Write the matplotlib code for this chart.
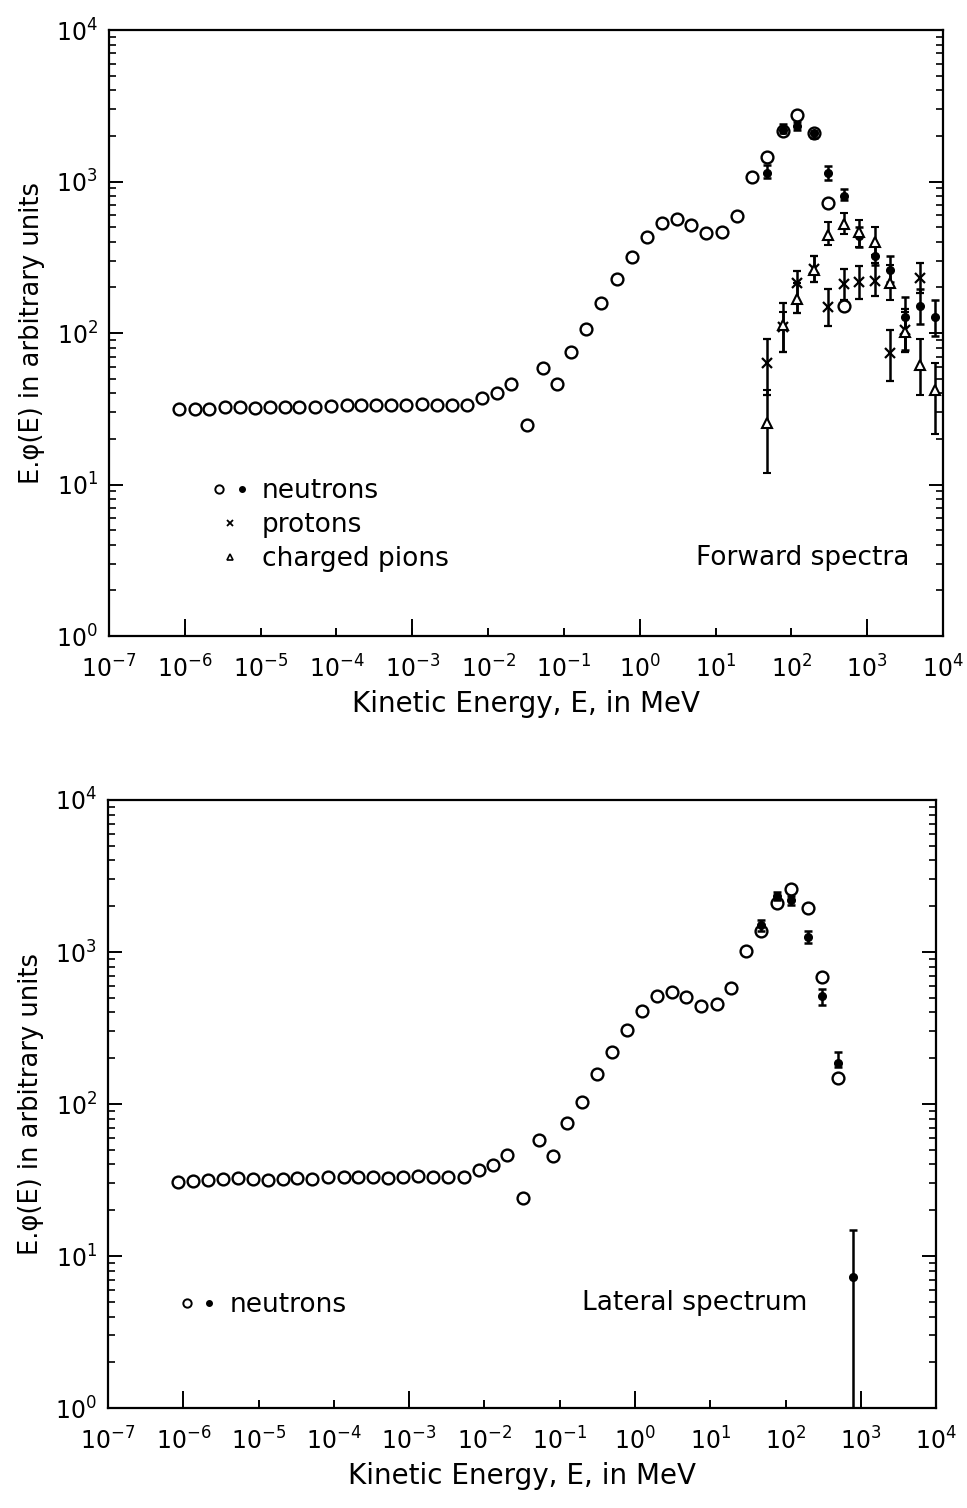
import numpy as np
import matplotlib
matplotlib.use("Agg")
import matplotlib.pyplot as plt
from matplotlib.ticker import FixedLocator, NullFormatter, LogLocator
from matplotlib.legend_handler import HandlerTuple
from matplotlib.lines import Line2D

plt.rcParams["font.family"] = ["DejaVu Sans"]
plt.rcParams["mathtext.fontset"] = "dejavusans"

# energy bins in MeV (~0.2 decade apart)
energy = [8.4e-7, 1.35e-6, 2.1e-6, 3.36e-6, 5.35e-6, 8.43e-6, 1.34e-5, 2.1e-5,
          3.24e-5, 5.18e-5, 8.41e-5, 1.37e-4, 2.11e-4, 3.33e-4, 5.3e-4, 8.36e-4,
          1.33e-3, 2.1e-3, 3.32e-3, 5.28e-3, 8.41e-3, 1.30e-2, 2.01e-2, 3.27e-2,
          5.37e-2, 8.2e-2, 0.124, 0.196, 0.31, 0.499, 0.787, 1.24, 1.96, 3.14,
          4.72, 7.45, 12.3, 19.1, 30.1, 47.5, 76.4, 120, 196, 308, 498]
energy_hi = [47.5, 76.4, 120, 196, 308, 498, 789, 1250, 1980, 3140, 4980, 7890]

# --- forward spectra ---
fwd_n_open = [31.4, 31.7, 31.7, 32.5, 32.3, 32.0, 32.5, 32.3, 32.3, 32.3,
              32.8, 33.3, 33.3, 33.3, 33.3, 33.6, 34.0, 33.5, 33.3, 33.6,
              37.1, 40.4, 46.0, 24.7, 59.0, 46.0, 75.3, 106, 157, 226,
              316, 428, 530, 565, 514, 459, 462, 595, 1066, 1459,
              2153, 2748, 2081, 724, 151]
fwd_n_fill = [1143, 2188, 2325, 2081, 1143, 806, 437, 324, 260, 128, 151, 128]
fwd_n_lo = [1055, 2100, 2200, 1950, 1020, 750, 372, 280, 217, 77, 114, 95]
fwd_n_hi = [1285, 2390, 2480, 2150, 1260, 890, 500, 380, 322, 174, 194, 166]

fwd_p = [63.7, 109, 213, 264, 149, 210, 216, 220, 73.5, 105, 230]
fwd_p_lo = [39, 75, 135, 217, 112, 165, 167, 176, 48, 75, 183]
fwd_p_hi = [90.7, 158, 257, 322, 195, 265, 275, 288, 104, 144, 288]

fwd_pi = [25.4, 113, 169, 260, 443, 524, 466, 400, 213, 102, 61.5, 42]
fwd_pi_lo = [11.9, 75, 135, 217, 380, 450, 372, 325, 165, 75, 39, 21.7]
fwd_pi_hi = [42, 138, 213, 322, 543, 618, 555, 500, 280, 138, 90.7, 63.5]

# --- lateral spectrum ---
lat_n_open = [30.5, 31.3, 31.6, 32.0, 32.5, 32.1, 31.8, 32.3, 32.6, 32.3,
              32.9, 33.1, 33.1, 33.1, 32.8, 33.1, 33.7, 33.1, 33.1, 33.1,
              36.8, 39.5, 46.0, 24.0, 58.0, 45.5, 75, 103, 157, 221,
              307, 411, 516, 543, 504, 443, 453, 577, 1016, 1380,
              2090, 2596, 1946, 682, 148]
lat_n_fill = [1505, 2335, 2197, 1250, 516, 185, 7.3]
lat_n_lo = [1380, 2200, 2050, 1140, 450, 176, 0.9]
lat_n_hi = [1625, 2500, 2350, 1370, 575, 220, 14.8]

decades = [10.0 ** k for k in range(-7, 5)]
long_x = [1e-6, 1e-3, 1e0, 1e3]
TICK_FS = 17
TEXT_FS = 19


def style_axes(ax):
    ax.set_xscale("log")
    ax.set_yscale("log")
    ax.set_xlim(1e-7, 1e4)
    ax.set_ylim(1, 1e4)
    for s in ax.spines.values():
        s.set_linewidth(1.6)
    ax.xaxis.set_major_locator(FixedLocator(decades))
    ax.xaxis.set_minor_locator(FixedLocator(long_x))
    ax.xaxis.set_minor_formatter(NullFormatter())
    ax.xaxis.remove_overlapping_locs = False
    ax.yaxis.set_major_locator(LogLocator(base=10, numticks=10))
    ax.yaxis.set_minor_locator(LogLocator(base=10, subs=np.arange(2, 10), numticks=10))
    ax.yaxis.set_minor_formatter(NullFormatter())
    ax.tick_params(axis="x", which="major", direction="in", length=6, width=1.4,
                   labelsize=TICK_FS, pad=14, top=False)
    ax.tick_params(axis="x", which="minor", direction="in", length=12, width=1.4,
                   top=False)
    ax.tick_params(axis="y", which="major", direction="in", length=10, width=1.4,
                   labelsize=TICK_FS, pad=8, right=True)
    ax.tick_params(axis="y", which="minor", direction="in", length=5, width=1.2,
                   right=True)
    ax.set_xlabel("Kinetic Energy, E, in MeV", fontsize=TEXT_FS + 1, labelpad=5)
    ax.set_ylabel("E.φ(E) in arbitrary units", fontsize=TEXT_FS - 0.5, labelpad=8)


open_kw = dict(linestyle="none", marker="o", markersize=8.5, markerfacecolor="white",
               markeredgecolor="black", markeredgewidth=1.7, zorder=3)
err_kw = dict(linestyle="none", ecolor="black", elinewidth=1.8, capsize=3,
              capthick=1.8, zorder=4)

fig = plt.figure(figsize=(9.67, 15.08), dpi=100)
ax1 = fig.add_axes([0.1127, 0.5782, 0.8625, 0.4019])
ax2 = fig.add_axes([0.1117, 0.0663, 0.8563, 0.4032])

# top panel: forward spectra
ax1.plot(energy, fwd_n_open, **open_kw)
fn = np.array(fwd_n_fill)
ax1.errorbar(energy_hi, fn, yerr=[fn - np.array(fwd_n_lo), np.array(fwd_n_hi) - fn],
             marker="o", markersize=5.5, color="black", **err_kw)
fp = np.array(fwd_p)
ax1.errorbar(energy_hi[:len(fp)], fp, yerr=[fp - np.array(fwd_p_lo), np.array(fwd_p_hi) - fp],
             marker="x", markersize=7, markeredgewidth=1.6, color="black", **err_kw)
fpi = np.array(fwd_pi)
ax1.errorbar(energy_hi, fpi, yerr=[fpi - np.array(fwd_pi_lo), np.array(fwd_pi_hi) - fpi],
             marker="^", markersize=7.5, markerfacecolor="white", markeredgecolor="black",
             markeredgewidth=1.5, color="black", **err_kw)
style_axes(ax1)

h_open = Line2D([], [], linestyle="none", marker="o", markersize=6, markerfacecolor="white",
                markeredgecolor="black", markeredgewidth=1.4)
h_fill = Line2D([], [], linestyle="none", marker="o", markersize=4, color="black")
h_p = Line2D([], [], linestyle="none", marker="x", markersize=5, markeredgewidth=1.3, color="black")
h_pi = Line2D([], [], linestyle="none", marker="^", markersize=5, markerfacecolor="white",
              markeredgecolor="black", markeredgewidth=1.2)
ax1.legend([(h_open, h_fill), h_p, h_pi], ["neutrons", "protons", "charged pions"],
           handler_map={tuple: HandlerTuple(ndivide=None, pad=0.3)},
           loc="upper left", bbox_to_anchor=(0.095, 0.30), frameon=False,
           fontsize=TEXT_FS, handlelength=1.4, handletextpad=0.5, labelspacing=0.3)
ax1.text(0.96, 0.128, "Forward spectra", transform=ax1.transAxes, ha="right",
         va="center", fontsize=TEXT_FS)

# bottom panel: lateral spectrum
ax2.plot(energy, lat_n_open, **open_kw)
ln = np.array(lat_n_fill)
ax2.errorbar(energy_hi[:len(ln)], ln, yerr=[ln - np.array(lat_n_lo), np.array(lat_n_hi) - ln],
             marker="o", markersize=5.5, color="black", **err_kw)
style_axes(ax2)
ax2.legend([(h_open, h_fill)], ["neutrons"],
           handler_map={tuple: HandlerTuple(ndivide=None, pad=0.3)},
           loc="upper left", bbox_to_anchor=(0.058, 0.23), frameon=False,
           fontsize=TEXT_FS, handlelength=1.4, handletextpad=0.5)
ax2.text(0.845, 0.173, "Lateral spectrum", transform=ax2.transAxes, ha="right",
         va="center", fontsize=TEXT_FS)

fig.savefig("out.png", dpi=100)
